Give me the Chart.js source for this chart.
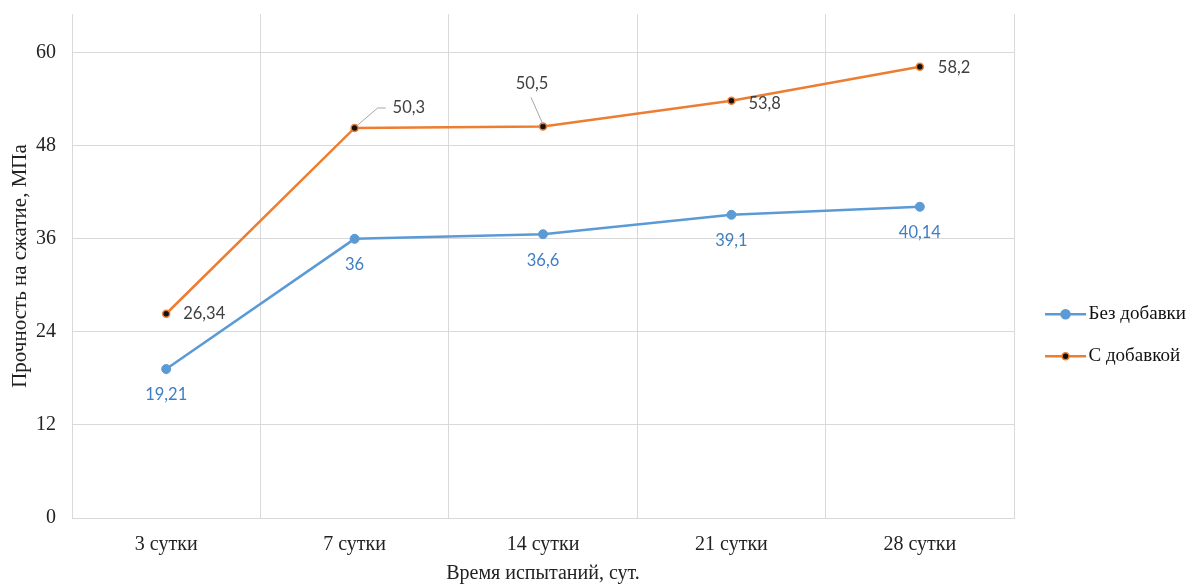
<!DOCTYPE html>
<html>
<head>
<meta charset="utf-8">
<script src="https://cdn.jsdelivr.net/npm/chart.js@4/dist/chart.umd.min.js"></script>
<style>
  html, body { margin: 0; padding: 0; background: #fff; }
  #wrap { width: 1192px; height: 584px; }
</style>
</head>
<body>
<div id="wrap"><canvas id="c" width="1192" height="584"></canvas></div>
<script>
const categories = ['3 сутки', '7 сутки', '14 сутки', '21 сутки', '28 сутки'];
const withoutAdditive = [19.21, 36, 36.6, 39.1, 40.14];
const withAdditive = [26.34, 50.3, 50.5, 53.8, 58.2];
const yTicks = [0, 12, 24, 36, 48, 60];

const BLUE = '#5B9BD5';
const ORANGE = '#ED7D31';
const SERIF = '"Liberation Serif", "Times New Roman", serif';
const LABEL_FONT = '16.5px Lato, "Open Sans", sans-serif';
const LEGEND_SHIFT = 8;

const fmt = v => String(v).replace('.', ',');

// Value labels: blue below each point, orange beside / above with leader lines
const orangePlacement = [
  { dx: 17, dy: 0, align: 'left' },
  { dx: 38, dy: -20, align: 'left', leader: [[2, -2], [23, -20], [31, -20]] },
  { dx: -11, dy: -43, align: 'center', leader: [[0, -2], [-12, -29]] },
  { dx: 17, dy: 3, align: 'left' },
  { dx: 18, dy: 1, align: 'left' }
];

const valueLabels = {
  id: 'valueLabels',
  afterDatasetsDraw(chart) {
    const ctx = chart.ctx;
    ctx.save();
    ctx.font = LABEL_FONT;
    ctx.textBaseline = 'middle';
    const m0 = chart.getDatasetMeta(0);
    m0.data.forEach((pt, i) => {
      ctx.fillStyle = '#3F7EC4';
      ctx.textAlign = 'center';
      ctx.fillText(fmt(withoutAdditive[i]), pt.x, pt.y + 26);
    });
    const m1 = chart.getDatasetMeta(1);
    m1.data.forEach((pt, i) => {
      const p = orangePlacement[i];
      if (p.leader) {
        ctx.strokeStyle = '#A6A6A6';
        ctx.lineWidth = 1;
        ctx.beginPath();
        p.leader.forEach((q, k) => {
          if (k === 0) ctx.moveTo(pt.x + q[0], pt.y + q[1]);
          else ctx.lineTo(pt.x + q[0], pt.y + q[1]);
        });
        ctx.stroke();
      }
      ctx.fillStyle = '#404040';
      ctx.textAlign = p.align;
      ctx.fillText(fmt(withAdditive[i]), pt.x + p.dx, pt.y + p.dy);
    });
    ctx.restore();
  }
};

// Legend: nudge the block away from the plot and draw line + marker symbols
const legendSymbols = {
  id: 'legendSymbols',
  afterLayout(chart) {
    const lg = chart.legend;
    if (!lg) return;
    lg.left += LEGEND_SHIFT;
    lg.right += LEGEND_SHIFT;
  },
  afterDraw(chart) {
    const lg = chart.legend;
    if (!lg || !lg.legendHitBoxes) return;
    const ctx = chart.ctx;
    const styles = [
      { line: BLUE, fill: BLUE, border: BLUE, r: 4.5 },
      { line: ORANGE, fill: '#111', border: ORANGE, r: 3.5 }
    ];
    const len = 41;
    const x0 = lg.left + lg.options.labels.padding;
    ctx.save();
    lg.legendHitBoxes.forEach((hb, i) => {
      const s = styles[i];
      const y = hb.top + hb.height / 2;
      ctx.strokeStyle = s.line;
      ctx.lineWidth = 2.5;
      ctx.beginPath();
      ctx.moveTo(x0, y);
      ctx.lineTo(x0 + len, y);
      ctx.stroke();
      ctx.beginPath();
      ctx.arc(x0 + len / 2, y, s.r, 0, Math.PI * 2);
      ctx.fillStyle = s.fill;
      ctx.fill();
      ctx.lineWidth = 1.5;
      ctx.strokeStyle = s.border;
      ctx.stroke();
    });
    ctx.restore();
  }
};

new Chart(document.getElementById('c'), {
  type: 'line',
  data: {
    labels: categories,
    datasets: [
      {
        label: 'Без добавки',
        data: withoutAdditive,
        borderColor: BLUE,
        backgroundColor: BLUE,
        borderWidth: 2.5,
        pointRadius: 4.5,
        pointBackgroundColor: BLUE,
        pointBorderColor: BLUE,
        pointBorderWidth: 1,
        tension: 0
      },
      {
        label: 'С добавкой',
        data: withAdditive,
        borderColor: ORANGE,
        backgroundColor: ORANGE,
        borderWidth: 2.5,
        pointRadius: 3.5,
        pointBackgroundColor: '#111',
        pointBorderColor: ORANGE,
        pointBorderWidth: 1.5,
        tension: 0
      }
    ]
  },
  options: {
    responsive: false,
    animation: false,
    devicePixelRatio: 1,
    layout: { padding: { top: 14, right: 4, left: 6, bottom: 0 } },
    plugins: {
      tooltip: { enabled: false },
      legend: {
        position: 'right',
        align: 'center',
        title: {
          display: true,
          text: ' ',
          font: { size: 12 },
          padding: { top: 58, bottom: 0 }
        },
        labels: {
          boxWidth: 34,
          boxHeight: 2,
          padding: 23,
          color: '#111',
          font: { family: SERIF, size: 19 },
          generateLabels(chart) {
            return Chart.defaults.plugins.legend.labels.generateLabels(chart).map(l => ({
              ...l,
              fillStyle: 'rgba(0,0,0,0)',
              strokeStyle: 'rgba(0,0,0,0)',
              lineWidth: 0
            }));
          }
        }
      }
    },
    scales: {
      x: {
        offset: true,
        grid: { offset: true, color: '#D9D9D9', lineWidth: 1, drawTicks: false },
        border: { color: '#D9D9D9', width: 1 },
        ticks: { color: '#222', font: { family: SERIF, size: 20 }, padding: 15 },
        title: {
          display: true,
          text: 'Время испытаний, сут.',
          color: '#222',
          font: { family: SERIF, size: 20, lineHeight: 1 },
          padding: { top: 0, bottom: 0 }
        },
        afterFit(scale) { scale.height = 66; }
      },
      y: {
        min: 0,
        max: 65,
        grid: { color: '#D9D9D9', lineWidth: 1, drawTicks: false },
        border: { color: '#D9D9D9', width: 1 },
        afterBuildTicks(scale) {
          scale.ticks = yTicks.map(v => ({ value: v }));
        },
        ticks: { color: '#222', font: { family: SERIF, size: 20 }, padding: 16 },
        title: {
          display: true,
          text: 'Прочность на сжатие, МПа',
          color: '#222',
          font: { family: SERIF, size: 21, lineHeight: 1 },
          padding: { top: 4, bottom: 0 }
        },
        afterFit(scale) {
          scale.width = 66;
          scale.paddingTop = 0;
          scale.paddingBottom = 0;
        }
      }
    }
  },
  plugins: [valueLabels, legendSymbols]
});
</script>
</body>
</html>
